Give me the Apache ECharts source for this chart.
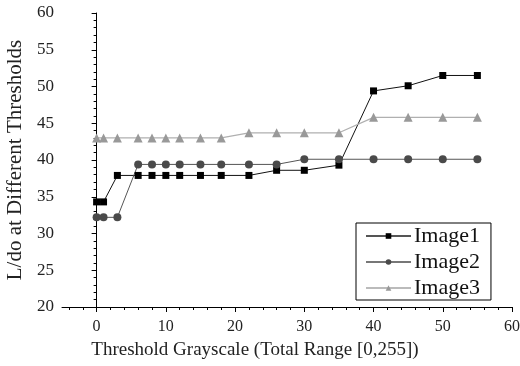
<!DOCTYPE html>
<html><head><meta charset="utf-8">
<script src="https://cdn.jsdelivr.net/npm/echarts@6/dist/echarts.min.js"></script>
<style>html,body{margin:0;padding:0;background:#fff}#c{width:520px;height:366px}</style>
</head><body><div id="c"></div>
<script>
const thresholds = [0,1,3,6,8,10,12,15,18,22,26,30,35,40,45,50,55];
const image1 = [34.3,34.3,37.9,37.9,37.9,37.9,37.9,37.9,37.9,37.9,38.6,38.6,39.3,49.4,50.1,51.5,51.5];
const image2 = [32.2,32.2,32.2,39.4,39.4,39.4,39.4,39.4,39.4,39.4,39.4,40.1,40.1,40.1,40.1,40.1,40.1];
const image3 = [43.0,43.0,43.0,43.0,43.0,43.0,43.0,43.0,43.0,43.7,43.7,43.7,43.7,45.8,45.8,45.8,45.8];
const xMajor = [0,10,20,30,40,50,60];
const xMinor = [-4,-2,2,4,6,8,12,14,16,18,22,24,26,28,32,34,36,38,42,44,46,48,52,54,56,58];
const seriesNames = ['Image1','Image2','Image3'];

const font = 'Liberation Serif';
const pair = (xs, ys) => xs.map((x,i)=>[x, ys[i]]);
const chart = echarts.init(document.getElementById('c'));
chart.setOption({
  animation:false,
  textStyle:{fontFamily:font},
  grid:{left:62,right:8,top:13,bottom:59,containLabel:false,outerBoundsMode:'none'},
  xAxis:[{
    type:'value',min:-5,max:60,position:'bottom',
    axisLine:{show:true,lineStyle:{color:'#000',width:1}},
    axisTick:{show:true,customValues:xMajor,length:5,inside:false,lineStyle:{color:'#000'}},
    axisLabel:{customValues:xMajor,color:'#222',fontFamily:font,fontSize:16,margin:12},
    splitLine:{show:false},
    name:'Threshold Grayscale (Total Range [0,255])',nameLocation:'middle',nameGap:34,
    nameTextStyle:{color:'#222',fontFamily:font,fontSize:19,padding:[0,64,0,0]}
  },{
    type:'value',min:-5,max:60,position:'bottom',
    axisLine:{show:false},
    axisTick:{show:true,customValues:xMinor,length:3,lineStyle:{color:'#000'}},
    axisLabel:{show:false},splitLine:{show:false}
  }],
  yAxis:{
    type:'value',min:20,max:60,interval:5,
    axisLine:{show:true,lineStyle:{color:'#000',width:1}},
    axisTick:{show:true,length:5,lineStyle:{color:'#000'}},
    minorTick:{show:true,splitNumber:5,length:3,lineStyle:{color:'#000'}},
    axisLabel:{color:'#222',fontFamily:font,fontSize:17,margin:8},
    splitLine:{show:false},
    name:'L/do at Different Thresholds',nameLocation:'middle',nameGap:34,
    nameTextStyle:{color:'#222',fontFamily:font,fontSize:21}
  },
  legend:{
    left:356,top:223,orient:'vertical',
    padding:[2,11,1,9],itemGap:4,itemWidth:45,itemHeight:7,
    borderColor:'#000',borderWidth:1,backgroundColor:'#fff',
    textStyle:{color:'#111',fontFamily:font,fontSize:22,padding:[0,0,0,-2]},
    data:[
      {name:seriesNames[0],lineStyle:{color:'#555'}},
      {name:seriesNames[1],lineStyle:{color:'#777'}},
      {name:seriesNames[2],lineStyle:{color:'#bbb'}}
    ]
  },
  series:[
    {name:seriesNames[0],type:'line',data:pair(thresholds,image1),symbol:'rect',symbolSize:7,
     lineStyle:{color:'#111',width:1},itemStyle:{color:'#000'}},
    {name:seriesNames[1],type:'line',data:pair(thresholds,image2),symbol:'circle',symbolSize:8,
     lineStyle:{color:'#555',width:1},itemStyle:{color:'#4a4a4a'}},
    {name:seriesNames[2],type:'line',data:pair(thresholds,image3),symbol:'triangle',symbolSize:9,
     lineStyle:{color:'#b0b0b0',width:1.2},itemStyle:{color:'#999'}}
  ]
});
</script></body></html>
